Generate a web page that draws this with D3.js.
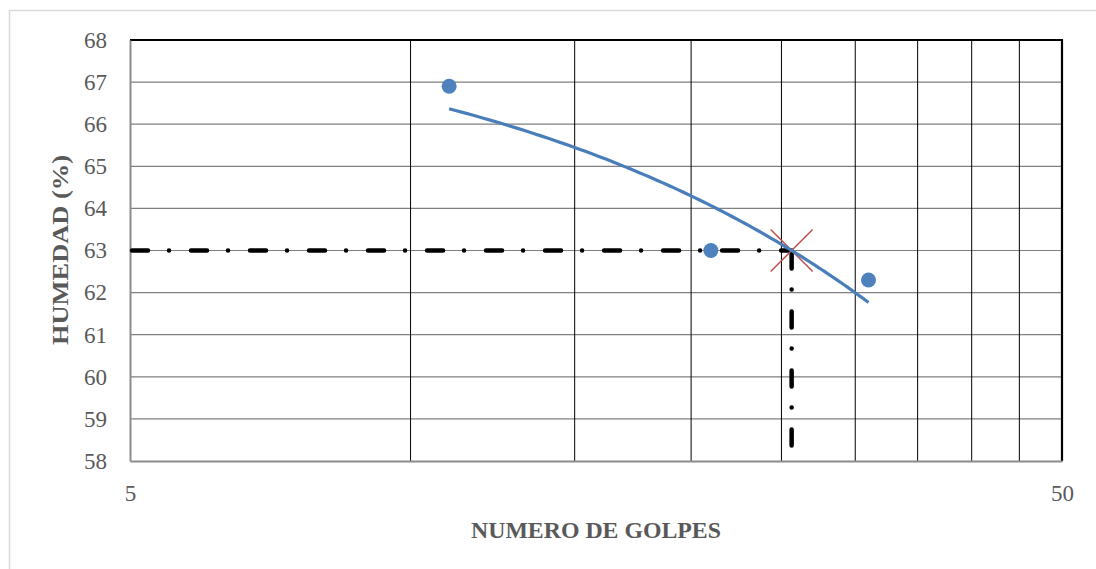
<!DOCTYPE html>
<html><head><meta charset="utf-8">
<script src="https://cdn.jsdelivr.net/npm/d3@7"></script>
<style>body{margin:0;background:#fff}svg{display:block}</style>
</head><body>
<svg id="c" width="1096" height="569"></svg>
<script>
// data
const golpes = [11, 21, 31];
const humedad = [66.9, 63.0, 62.3];
const targetHumedad = 63;
const yTicks = [58, 59, 60, 61, 62, 63, 64, 65, 66, 67, 68];
const xTickLabels = [5, 50];
const xGrid = [10, 15, 20, 25, 30, 35, 40, 45];
const guideBottom = 57.9;

const svg = d3.select("#c");
const L = 130, R = 1062, T = 40, B = 461;
const x = d3.scaleLog().domain([5, 50]).range([L, R]);
const y = d3.scaleLinear().domain([58, 68]).range([B, T]);

// outer frame
svg.append("rect").attr("x", 9.5).attr("y", 10.5).attr("width", 1100).attr("height", 600)
  .attr("fill", "#fff").attr("stroke", "#d9d9d9").attr("stroke-width", 1.5);

// horizontal grid
svg.append("g").selectAll("line").data(yTicks.slice(1, -1)).join("line")
  .attr("x1", L).attr("x2", R).attr("y1", d => y(d)).attr("y2", d => y(d))
  .attr("stroke", "#7f7f7f").attr("stroke-width", 1.2);
// vertical grid
svg.append("g").selectAll("line").data(xGrid).join("line")
  .attr("x1", d => x(d)).attr("x2", d => x(d)).attr("y1", T).attr("y2", B)
  .attr("stroke", "#000").attr("stroke-width", 1);

// borders
svg.append("line").attr("x1", L).attr("x2", R + 1).attr("y1", T).attr("y2", T).attr("stroke", "#000").attr("stroke-width", 2.2);
svg.append("line").attr("x1", R).attr("x2", R).attr("y1", T).attr("y2", B).attr("stroke", "#000").attr("stroke-width", 2.2);

// axes
const font = "'Liberation Serif', 'DejaVu Serif', serif";
const yAxis = svg.append("g").attr("transform", `translate(${L},0)`)
  .call(d3.axisLeft(y).tickValues(yTicks).tickSize(0).tickPadding(23).tickFormat(d3.format("d")));
const xAxis = svg.append("g").attr("transform", `translate(0,${B})`)
  .call(d3.axisBottom(x).tickValues(xTickLabels).tickSize(0).tickPadding(24).tickFormat(d3.format("d")));
[yAxis, xAxis].forEach(g => {
  g.select(".domain").attr("stroke", "#8c8c8c").attr("stroke-width", 2);
  g.selectAll("text").attr("font-family", font).attr("font-size", 23).attr("fill", "#595959");
});

// linear trendline (least squares fit of the points)
const n = golpes.length;
const mx = d3.mean(golpes), my = d3.mean(humedad);
const slope = d3.sum(golpes.map((g, i) => (g - mx) * (humedad[i] - my))) / d3.sum(golpes.map(g => (g - mx) ** 2));
const icpt = my - slope * mx;
const xCross = (targetHumedad - icpt) / slope;

// guide lines
const guideStyle = sel => sel.attr("fill", "none").attr("stroke", "#000").attr("stroke-width", 4.5)
  .attr("stroke-linecap", "round").attr("stroke-dasharray", "16,21,0.01,22").attr("stroke-dashoffset", -2);
svg.append("path").attr("d", d3.line()([[x(5), y(targetHumedad)], [x(xCross), y(targetHumedad)]])).call(guideStyle);
svg.append("path").attr("d", d3.line()([[x(xCross), y(targetHumedad)], [x(xCross), y(guideBottom)]])).call(guideStyle);

// cross marker
const cx = x(xCross), cy = y(targetHumedad), s = 21;
svg.append("path").attr("d", `M${cx - s},${cy - s}L${cx + s},${cy + s}M${cx - s},${cy + s}L${cx + s},${cy - s}`)
  .attr("stroke", "#c0504d").attr("stroke-width", 1.5).attr("fill", "none");

// trendline path
const samples = d3.range(0, 101).map(i => golpes[0] + (golpes[n - 1] - golpes[0]) * i / 100);
svg.append("path").attr("d", d3.line().x(d => x(d)).y(d => y(icpt + slope * d))(samples))
  .attr("fill", "none").attr("stroke", "#4a7ebb").attr("stroke-width", 3.2);

// points
svg.append("g").selectAll("circle").data(golpes).join("circle")
  .attr("cx", d => x(d)).attr("cy", (d, i) => y(humedad[i])).attr("r", 7.5).attr("fill", "#4f81bd");

// titles
svg.append("text").attr("x", 596).attr("y", 538).attr("text-anchor", "middle")
  .attr("font-family", font).attr("font-weight", "bold").attr("font-size", 23).attr("fill", "#595959")
  .attr("textLength", 250).attr("lengthAdjust", "spacingAndGlyphs")
  .text("NUMERO DE GOLPES");
svg.append("text").attr("transform", "translate(68,250) rotate(-90)").attr("text-anchor", "middle")
  .attr("font-family", font).attr("font-weight", "bold").attr("font-size", 23).attr("fill", "#595959")
  .attr("textLength", 190).attr("lengthAdjust", "spacingAndGlyphs")
  .text("HUMEDAD (%)");
</script>
</body></html>
